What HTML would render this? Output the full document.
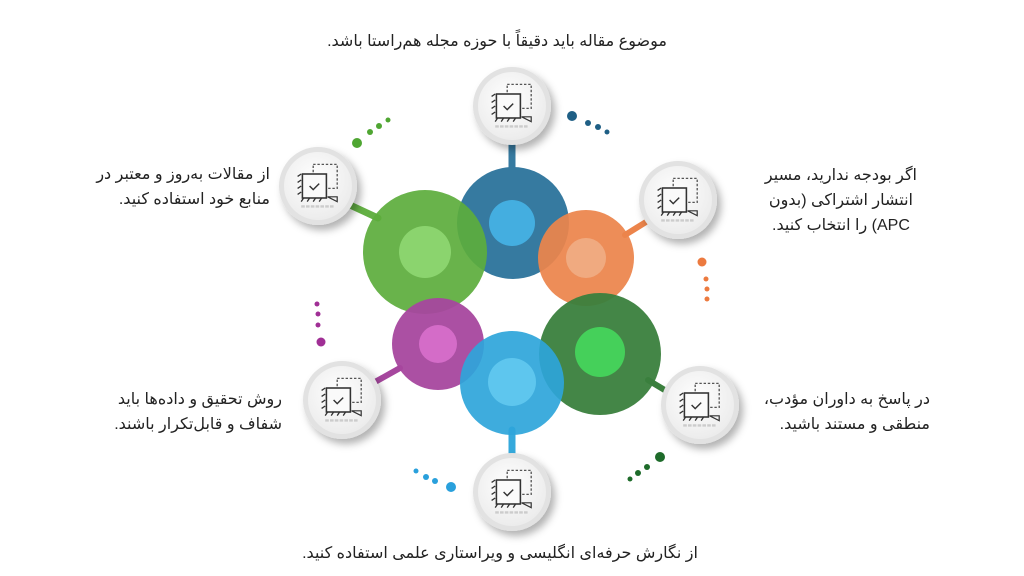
<!DOCTYPE html>
<html><head><meta charset="utf-8"><style>
html,body{margin:0;padding:0;background:#fff;}
body{width:1024px;height:576px;overflow:hidden;position:relative;font-family:"Liberation Sans","DejaVu Sans",sans-serif;}
.t{position:absolute;direction:rtl;font-size:16px;line-height:25px;color:#222;white-space:nowrap;}
</style></head><body>
<svg width="1024" height="576" style="position:absolute;left:0;top:0">
<defs>
<radialGradient id="ng" cx="45%" cy="40%" r="60%"><stop offset="0" stop-color="#fff"/><stop offset="1" stop-color="#ececec"/></radialGradient>
<filter id="sh" x="-40%" y="-40%" width="180%" height="180%"><feDropShadow dx="4" dy="5" stdDeviation="4" flood-color="#000" flood-opacity="0.3"/></filter>
<g id="ic" transform="scale(1.2)">
<rect x="-4" y="-18" width="20" height="20" fill="none" stroke="#555" stroke-width="1.1" stroke-dasharray="2,1.5"/>
<rect x="-13" y="-10" width="20" height="20" fill="#fafafa" stroke="#333" stroke-width="1.3"/>
<path d="M-7,0 l3,3 l5,-5" fill="none" stroke="#333" stroke-width="1.2"/>
<path d="M-17,-8 l3,-2 M-17,-3 l3,-2 M-17,2 l3,-2 M-17,7 l3,-2 M-14,13 l2,-3 M-9,13 l2,-3 M-4,13 l2,-3 M1,13 l2,-3" stroke="#333" stroke-width="1.1"/>
<path d="M8,9 l8,0 l0,4 z" fill="none" stroke="#333" stroke-width="1"/>
<path d="M-14,17 h28" stroke="#ccc" stroke-width="2" stroke-dasharray="3,1"/>
</g>
</defs>
<g stroke-linecap="round">
<line x1="512" y1="140" x2="512" y2="172" stroke="#367aa0" stroke-width="7"/>
<line x1="350" y1="205" x2="378" y2="218" stroke="#64b145" stroke-width="7"/>
<line x1="646" y1="222" x2="625" y2="235" stroke="#ec844b" stroke-width="6"/>
<line x1="375" y1="382" x2="400" y2="368" stroke="#a6479e" stroke-width="6"/>
<line x1="512" y1="430" x2="512" y2="460" stroke="#35a9dc" stroke-width="7"/>
<line x1="668" y1="392" x2="648" y2="380" stroke="#3a7f3d" stroke-width="6"/>
</g>
<circle cx="513" cy="223" r="56" fill="#367aa0"/>
<circle cx="586" cy="258" r="48" fill="#ec844b" opacity="0.93"/>
<circle cx="425" cy="252" r="62" fill="#5cad3c" opacity="0.92"/>
<circle cx="600" cy="354" r="61" fill="#3a7f3d" opacity="0.95"/>
<circle cx="438" cy="344" r="46" fill="#a6479e" opacity="0.95"/>
<circle cx="512" cy="383" r="52" fill="#2ea5da" opacity="0.92"/>
<circle cx="512" cy="223" r="23" fill="#44aee0"/>
<circle cx="425" cy="252" r="26" fill="#8bd46e"/>
<circle cx="586" cy="258" r="20" fill="#f0aa80"/>
<circle cx="438" cy="344" r="19" fill="#d46cc8"/>
<circle cx="512" cy="382" r="24" fill="#5ec6ee"/>
<circle cx="600" cy="352" r="25" fill="#45d05a"/>
<g fill="#4fa632"><circle cx="357" cy="143" r="5"/><circle cx="370" cy="132" r="3"/><circle cx="379" cy="126" r="3"/><circle cx="388" cy="120" r="2.5"/></g>
<g fill="#1f5f85"><circle cx="572" cy="116" r="5"/><circle cx="588" cy="123" r="3"/><circle cx="598" cy="127" r="3"/><circle cx="607" cy="132" r="2.5"/></g>
<g fill="#ec7a3f"><circle cx="702" cy="262" r="4.5"/><circle cx="706" cy="279" r="2.5"/><circle cx="707" cy="289" r="2.5"/><circle cx="707" cy="299" r="2.5"/></g>
<g fill="#a02f95"><circle cx="317" cy="304" r="2.5"/><circle cx="318" cy="314" r="2.5"/><circle cx="318" cy="325" r="2.5"/><circle cx="321" cy="342" r="4.5"/></g>
<g fill="#29a0dc"><circle cx="416" cy="471" r="2.5"/><circle cx="426" cy="477" r="3"/><circle cx="435" cy="481" r="3"/><circle cx="451" cy="487" r="5"/></g>
<g fill="#1e6b2a"><circle cx="660" cy="457" r="5"/><circle cx="647" cy="467" r="3"/><circle cx="638" cy="473" r="3"/><circle cx="630" cy="479" r="2.5"/></g>
<g>
<g transform="translate(512,106)"><circle r="39" fill="#e2e2e2" filter="url(#sh)"/><circle r="34" fill="url(#ng)"/><use href="#ic"/></g>
<g transform="translate(678,200)"><circle r="39" fill="#e2e2e2" filter="url(#sh)"/><circle r="34" fill="url(#ng)"/><use href="#ic"/></g>
<g transform="translate(318,186)"><circle r="39" fill="#e2e2e2" filter="url(#sh)"/><circle r="34" fill="url(#ng)"/><use href="#ic"/></g>
<g transform="translate(342,400)"><circle r="39" fill="#e2e2e2" filter="url(#sh)"/><circle r="34" fill="url(#ng)"/><use href="#ic"/></g>
<g transform="translate(700,405)"><circle r="39" fill="#e2e2e2" filter="url(#sh)"/><circle r="34" fill="url(#ng)"/><use href="#ic"/></g>
<g transform="translate(512,492)"><circle r="39" fill="#e2e2e2" filter="url(#sh)"/><circle r="34" fill="url(#ng)"/><use href="#ic"/></g>
</g>
</svg>
<div class="t" style="left:0;width:1024px;text-align:center;top:29px"><span style="position:relative;left:-15px">موضوع مقاله باید دقیقاً با حوزه مجله هم‌راستا باشد.</span></div>
<div class="t" style="right:754px;top:162px;text-align:right">از مقالات به‌روز و معتبر در<br>منابع خود استفاده کنید.</div>
<div class="t" style="right:742px;top:387px;text-align:right">روش تحقیق و داده‌ها باید<br>شفاف و قابل‌تکرار باشند.</div>
<div class="t" style="right:107px;top:163px;text-align:center">اگر بودجه ندارید، مسیر<br>انتشار اشتراکی (بدون<br>APC) را انتخاب کنید.</div>
<div class="t" style="right:94px;top:387px;text-align:right">در پاسخ به داوران مؤدب،<br>منطقی و مستند باشید.</div>
<div class="t" style="left:0;width:1024px;text-align:center;top:541px"><span style="position:relative;left:-12px">از نگارش حرفه‌ای انگلیسی و ویراستاری علمی استفاده کنید.</span></div>
</body></html>
